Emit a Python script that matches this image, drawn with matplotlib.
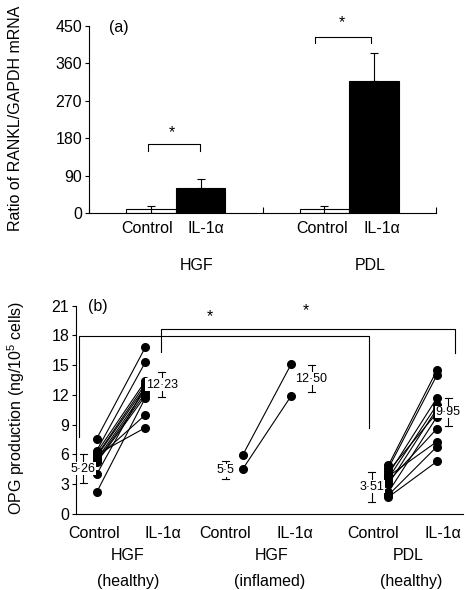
import matplotlib
matplotlib.use("Agg")
import matplotlib.pyplot as plt

plt.rcParams['font.family'] = ['Liberation Sans', 'DejaVu Sans']
plt.rcParams['mathtext.fontset'] = 'custom'
plt.rcParams['mathtext.rm'] = 'Liberation Sans'
plt.rcParams['mathtext.it'] = 'Liberation Sans'

# ---------------- Data: panel (a) ----------------
groups_a = ["HGF", "PDL"]
conditions = ["Control", "IL-1\u03b1"]
rankl_control = [9, 9]
rankl_control_err = [8, 8]
rankl_il1 = [60, 318]
rankl_il1_err = [22, 67]
yticks_a = [0, 90, 180, 270, 360, 450]

# ---------------- Data: panel (b) ----------------
hgf_healthy_control = [7.6, 6.4, 6.2, 6.0, 5.9, 5.8, 5.6, 5.5, 5.3, 5.2, 4.0, 2.2]
hgf_healthy_il1 = [16.8, 15.3, 13.4, 8.7, 13.1, 12.8, 10.0, 12.5, 12.2, 11.9, 12.9, 11.7]
hgf_inflamed_control = [5.9, 4.5]
hgf_inflamed_il1 = [15.1, 11.9]
pdl_healthy_control = [4.9, 4.6, 4.3, 4.0, 3.8, 3.6, 3.3, 3.0, 2.2, 1.9, 1.7]
pdl_healthy_il1 = [14.5, 14.0, 10.2, 11.7, 7.3, 11.0, 8.6, 10.6, 9.8, 6.8, 5.3]
mean_labels = ["5\u00b726", "12\u00b723", "5\u00b75", "12\u00b750", "3\u00b751", "9\u00b795"]
err_low = [3.1, 11.76, 3.5, 12.27, 1.24, 8.9]
err_high = [6.0, 14.28, 5.34, 15.0, 4.27, 11.66]
groups_b = ["HGF", "HGF", "PDL"]
states_b = ["(healthy)", "(inflamed)", "(healthy)"]
yticks_b = [0, 3, 6, 9, 12, 15, 18, 21]

W, H = 466, 590
fig = plt.figure(figsize=(W / 100, H / 100), dpi=100)
FS = 11.5
lw = 0.8

# ---------------- Panel (a) ----------------
axa = fig.add_axes([89 / W, 1 - 213 / H, (436 - 89) / W, (213 - 26) / H])
xc = [1.25, 4.75]
xi = [2.25, 5.75]
axa.bar(xc, rankl_control, width=1.0, color='white', edgecolor='black', linewidth=lw)
axa.bar(xi, rankl_il1, width=1.0, color='black', edgecolor='black', linewidth=lw)
axa.errorbar(xc, rankl_control, yerr=rankl_control_err, fmt='none', ecolor='black',
             elinewidth=lw, capsize=3, capthick=lw)
axa.errorbar(xi, rankl_il1, yerr=[[0, 0], rankl_il1_err], fmt='none', ecolor='black',
             elinewidth=lw, capsize=3, capthick=lw)
axa.set_xlim(0, 7)
axa.set_ylim(0, 450)
axa.set_yticks(yticks_a)
axa.set_xticks([0, 3.5, 7])
axa.set_xticklabels([])
axa.tick_params(axis='x', direction='in', length=4, width=lw)
axa.tick_params(axis='y', direction='out', length=3, width=lw, labelsize=FS, pad=2)
for s in ['top', 'right']:
    axa.spines[s].set_visible(False)
for s in ['left', 'bottom']:
    axa.spines[s].set_linewidth(lw)

# significance brackets
axa.plot([1.19, 1.19, 2.23, 2.23], [150, 166, 166, 150], color='black', lw=lw, clip_on=False)
axa.text(1.67, 193, '*', ha='center', va='center', fontsize=FS)
axa.plot([4.55, 4.55, 5.69, 5.69], [410, 423, 423, 410], color='black', lw=lw, clip_on=False)
axa.text(5.10, 458, '*', ha='center', va='center', fontsize=FS)
axa.text(0.085, 0.99, '(a)', transform=axa.transAxes, ha='center', va='center', fontsize=FS)

trans_a = axa.get_xaxis_transform()
for x, lab in zip([1.18, 2.35, 4.71, 5.90], conditions * 2):
    axa.text(x, -0.084, lab, transform=trans_a, ha='center', va='center', fontsize=FS)
for x, lab in zip([2.17, 5.67], groups_a):
    axa.text(x, -0.282, lab, transform=trans_a, ha='center', va='center', fontsize=FS)
fig.text(16 / W, 1 - 118.5 / H, 'Ratio of RANKL/GAPDH mRNA', rotation=90,
         ha='center', va='center', fontsize=FS)

# ---------------- Panel (b) ----------------
axb = fig.add_axes([76.3 / W, 1 - 514 / H, (462.7 - 76.3) / W, (514 - 305.7) / H])
pairs = [(1, 2, hgf_healthy_control, hgf_healthy_il1),
         (4, 5, hgf_inflamed_control, hgf_inflamed_il1),
         (7, 8, pdl_healthy_control, pdl_healthy_il1)]
for x0, x1, c, t in pairs:
    for a, b in zip(c, t):
        axb.plot([x0, x1], [a, b], color='black', lw=lw, marker='o', markersize=5.5,
                 markerfacecolor='black', markeredgecolor='black', clip_on=False)

axb.set_xlim(0.58, 8.53)
axb.set_ylim(0, 21)
axb.set_yticks(yticks_b)
axb.set_xticks([])
axb.tick_params(axis='y', direction='out', length=3, width=lw, labelsize=FS, pad=2)
for s in ['top', 'right']:
    axb.spines[s].set_visible(False)
for s in ['left', 'bottom']:
    axb.spines[s].set_linewidth(lw)

# mean +/- error bars with labels
ex = [0.724, 2.34, 3.65, 5.42, 6.66, 8.23]
for x, lo, hi, lab in zip(ex, err_low, err_high, mean_labels):
    axb.plot([x, x], [lo, hi], color='black', lw=lw, clip_on=False)
    axb.plot([x - 0.07, x + 0.07], [lo, lo], color='black', lw=lw, clip_on=False)
    axb.plot([x - 0.07, x + 0.07], [hi, hi], color='black', lw=lw, clip_on=False)
    axb.text(x, (lo + hi) / 2, lab, ha='center', va='center', fontsize=9,
             bbox=dict(facecolor='white', edgecolor='none', pad=0.3), zorder=5)

# significance brackets
axb.plot([0.636, 0.636, 6.60, 6.60], [7.8, 17.97, 17.97, 8.7], color='black', lw=lw, clip_on=False)
axb.plot([2.32, 2.32, 8.37, 8.37], [16.3, 18.7, 18.7, 16.2], color='black', lw=lw, clip_on=False)
axb.text(3.33, 19.9, '*', ha='center', va='center', fontsize=FS)
axb.text(5.30, 20.5, '*', ha='center', va='center', fontsize=FS)
axb.text(1.02, 20.9, '(b)', ha='center', va='center', fontsize=FS)

trans_b = axb.get_xaxis_transform()
for x, lab in zip([0.95, 2.37, 3.65, 5.08, 6.69, 8.13], conditions * 3):
    axb.text(x, -0.096, lab, transform=trans_b, ha='center', va='center', fontsize=FS)
for x, lab in zip([1.64, 4.60, 7.41], groups_b):
    axb.text(x, -0.197, lab, transform=trans_b, ha='center', va='center', fontsize=FS)
for x, lab in zip([1.64, 4.55, 7.46], states_b):
    axb.text(x, -0.325, lab, transform=trans_b, ha='center', va='center', fontsize=FS)
fig.text(16 / W, 1 - 408 / H, r'OPG production (ng/10$^{5}$ cells)', rotation=90,
         ha='center', va='center', fontsize=FS)

fig.savefig('out.png', dpi=100)
